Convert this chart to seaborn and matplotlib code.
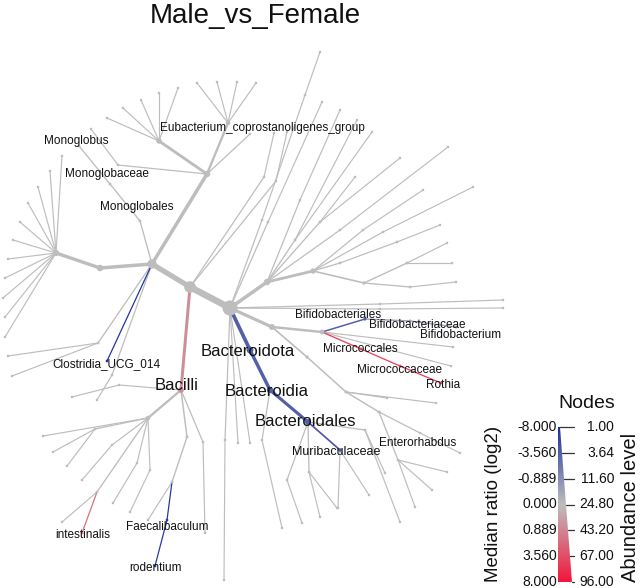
import numpy as np
import pandas as pd
import matplotlib
matplotlib.use("Agg")
import matplotlib.pyplot as plt
import seaborn as sns
from matplotlib.collections import LineCollection
from matplotlib.colors import LinearSegmentedColormap
from matplotlib.patches import Polygon

# ---------------- DATA ----------------
title = "Male_vs_Female"

# taxonomy: child -> parent
parent_of = {
    "Firmicutes": "Bacteria", "Clostridia": "Firmicutes",
    "cl_a": "Clostridia", "cl_b": "cl_a",
    "cl_c": "Clostridia", "cl_d": "cl_c", "cl_e": "cl_c", "cl_f": "cl_c", "cl_f1": "cl_f",
    "Eubacterium_coprostanoligenes_group": "cl_c",
    "Monoglobales": "Clostridia", "Monoglobaceae": "Monoglobales", "Monoglobus": "Monoglobaceae",
    "cl_g": "Firmicutes", "cl_g1": "cl_g", "cl_h": "Firmicutes", "cl_h1": "cl_h",
    "cl_i": "Clostridia", "cl_i1": "cl_i", "cl_i2": "cl_i",
    "Clostridia_UCG_014": "Clostridia", "cl_k": "Clostridia", "cl_k1": "cl_k",
    "Bacilli": "Firmicutes", "ba_a": "Bacilli", "ba_a1": "ba_a",
    "ba_b": "Bacilli", "ba_b1": "ba_b", "ba_c": "ba_b", "ba_c1": "ba_c", "ba_c2": "ba_c",
    "ba_d": "ba_b", "ba_d1": "ba_d", "ba_e": "ba_b", "ba_e1": "ba_e", "intestinalis": "ba_e",
    "ba_f": "ba_b", "ba_f1": "ba_f", "ba_g": "ba_b", "ba_g1": "ba_g",
    "ba_h": "Bacilli", "ba_i": "ba_h", "ba_i1": "ba_i", "Faecalibaculum": "ba_i",
    "rodentium": "Faecalibaculum", "ba_j": "Bacilli", "ba_j1": "ba_j",
    "rt_a": "Bacteria", "rt_a1": "rt_a", "rt_b": "Bacteria", "rt_c": "Bacteria",
    "rt_e": "Bacteria", "rt_e1": "rt_e", "rt_e2": "rt_e1", "rt_f": "Bacteria", "rt_f1": "rt_f",
    "rt_g": "Bacteria", "rt_g1": "rt_g", "rt_h": "Bacteria", "rt_h1": "rt_h",
    "Bacteroidota": "Bacteria", "Bacteroidia": "Bacteroidota", "bd_a": "Bacteroidia", "bd_a1": "bd_a",
    "Bacteroidales": "Bacteroidia", "bl_a": "Bacteroidales", "bl_a1": "bl_a",
    "bl_b": "Bacteroidales", "bl_b1": "bl_b", "bl_b2": "bl_b",
    "Muribaculaceae": "Bacteroidales", "mu_1": "Muribaculaceae", "mu_2": "Muribaculaceae",
    "bl_c": "Bacteroidales", "bl_c1": "bl_c", "bl_c2": "bl_c",
    "Actinobacteriota": "Bacteria", "Actinobacteria": "Actinobacteriota",
    "Bifidobacteriales": "Actinobacteria", "Bifidobacteriaceae": "Bifidobacteriales",
    "Bifidobacterium": "Bifidobacteriaceae",
    "Micrococcales": "Actinobacteria", "Micrococcaceae": "Micrococcales", "Rothia": "Micrococcaceae",
    "ac_a": "Actinobacteria", "ac_b": "Actinobacteria",
    "co_a": "Actinobacteriota", "co_b": "co_a", "co_b1": "co_b", "co_b2": "co_b",
    "co_c": "co_b", "Enterorhabdus": "co_c", "en_1": "Enterorhabdus",
    "co_d": "co_c", "co_d1": "co_d", "co_d2": "co_d", "co_d3": "co_d",
    "pr_a": "Bacteria", "pr_b": "pr_a", "pr_c": "pr_b", "pr_d": "pr_c", "pr_d1": "pr_d",
    "pr_e": "pr_c", "pr_e1": "pr_e", "pr_e2": "pr_e",
    "pr_f": "pr_b", "pr_g": "pr_f", "pr_g1": "pr_g",
    "pr_h": "pr_b", "pr_h1": "pr_h", "pr_i": "pr_b", "pr_i1": "pr_i",
    "pr_j": "pr_a", "pr_j1": "pr_j", "pr_k": "pr_a", "pr_k1": "pr_k", "pr_k2": "pr_k",
    "pr_l": "pr_a", "pr_l1": "pr_l", "pr_l2": "pr_l", "pr_m": "pr_a", "pr_m1": "pr_m",
}
for i in range(1, 12):
    parent_of[f"cl_b{i}"] = "cl_b"
for i in range(1, 6):
    parent_of[f"cl_d{i}"] = "cl_d"
for i in range(1, 5):
    parent_of[f"cl_e{i}"] = "cl_e"

# abundance level per taxon (unlisted taxa = 1)
abundance = {
    "Bacteria": 110, "Firmicutes": 80, "Clostridia": 60, "cl_a": 35, "cl_b": 33,
    "cl_c": 35, "cl_d": 26, "cl_e": 18, "cl_f": 2, "Eubacterium_coprostanoligenes_group": 2,
    "Monoglobales": 3, "Monoglobaceae": 3, "Monoglobus": 3, "cl_g": 2, "cl_h": 2,
    "cl_i": 3, "Clostridia_UCG_014": 2, "cl_k": 2,
    "Bacilli": 28, "ba_b": 18, "ba_c": 3, "ba_e": 3, "ba_h": 5, "ba_i": 4,
    "Faecalibaculum": 2, "rodentium": 2, "ba_j": 2, "intestinalis": 2,
    "Bacteroidota": 38, "Bacteroidia": 34, "Bacteroidales": 30, "Muribaculaceae": 9,
    "bl_b": 3, "bl_c": 3, "bd_a": 2, "bl_a": 2,
    "Actinobacteriota": 30, "Actinobacteriota_": 0, "Actinobacteria": 20,
    "Bifidobacteriales": 6, "Bifidobacteriaceae": 5, "Bifidobacterium": 4,
    "Micrococcales": 4, "Micrococcaceae": 3, "Rothia": 3,
    "co_a": 8, "co_b": 6, "co_c": 5, "co_d": 3, "Enterorhabdus": 2,
    "pr_a": 35, "pr_b": 25, "pr_c": 8, "pr_d": 3, "pr_e": 4, "pr_f": 3, "pr_g": 2,
    "pr_h": 2, "pr_i": 2, "pr_j": 2, "pr_k": 3, "pr_l": 3, "pr_m": 2,
    "rt_a": 2, "rt_e": 2, "rt_e1": 1.5, "rt_f": 2, "rt_g": 2, "rt_h": 2,
}

# median log2 ratio per taxon (unlisted taxa = 0)
log2_ratio = {
    "Clostridia_UCG_014": -7.5, "Bacilli": 0.6, "intestinalis": 1.6,
    "Faecalibaculum": -7.0, "rodentium": -7.0,
    "Bacteroidota": -3.5, "Bacteroidia": -3.5, "Bacteroidales": -3.5, "Muribaculaceae": -4.0,
    "Bifidobacteriales": -3.5, "Bifidobacteriaceae": -0.3, "Bifidobacterium": -0.2,
    "Micrococcales": 4.0, "Micrococcaceae": 4.0, "Rothia": 4.0,
}

labelled = ["Eubacterium_coprostanoligenes_group", "Monoglobus", "Monoglobaceae", "Monoglobales",
            "Clostridia_UCG_014", "Bacilli", "Bacteroidota", "Bacteroidia", "Bacteroidales",
            "Muribaculaceae", "Bifidobacteriales", "Bifidobacteriaceae", "Bifidobacterium",
            "Micrococcales", "Micrococcaceae", "Rothia", "Enterorhabdus", "intestinalis",
            "Faecalibaculum", "rodentium"]

ratio_ticks = ["-8.000", "-3.560", "-0.889", "0.000", "0.889", "3.560", "8.000"]
abund_ticks = ["1.00", "3.64", "11.60", "24.80", "43.20", "67.00", "96.00"]

# ---------------- LAYOUT (node positions, pixel space) ----------------
node_xy = {
    "Bacteria": (230, 308), "Firmicutes": (190, 287), "Clostridia": (152, 264),
    "cl_a": (100, 268), "cl_b": (56, 253),
    "cl_c": (207, 174), "cl_d": (159, 141), "cl_e": (228, 123), "cl_f": (118, 165), "cl_f1": (91, 129),
    "Eubacterium_coprostanoligenes_group": (250, 134),
    "Monoglobales": (140, 221), "Monoglobaceae": (110, 184), "Monoglobus": (79, 146),
    "cl_g": (264, 177), "cl_g1": (274, 133), "cl_h": (276, 181), "cl_h1": (287, 132),
    "cl_i": (98, 343), "cl_i1": (8, 356), "cl_i2": (12, 376),
    "Clostridia_UCG_014": (107, 361), "cl_k": (112, 375), "cl_k1": (97, 400),
    "Bacilli": (181, 390), "ba_a": (119, 385), "ba_a1": (72, 397),
    "ba_b": (148, 418), "ba_b1": (43, 436), "ba_c": (95, 429), "ba_c1": (53, 452), "ba_c2": (67, 466),
    "ba_d": (112, 445), "ba_d1": (82, 480), "ba_e": (97, 492), "ba_e1": (62, 522),
    "intestinalis": (82, 533), "ba_f": (137, 463), "ba_f1": (113, 503),
    "ba_g": (150, 470), "ba_g1": (130, 512),
    "ba_h": (187, 437), "ba_i": (172, 482), "ba_i1": (148, 520),
    "Faecalibaculum": (167, 520), "rodentium": (155, 566), "ba_j": (203, 442), "ba_j1": (205, 533),
    "rt_a": (225, 440), "rt_a1": (224, 580), "rt_b": (238, 443), "rt_c": (250, 443),
    "rt_e": (262, 220), "rt_e1": (305, 95), "rt_e2": (320, 52), "rt_f": (268, 222), "rt_f1": (322, 102),
    "rt_g": (380, 304), "rt_g1": (503, 300), "rt_h": (380, 309), "rt_h1": (503, 308),
    "Bacteroidota": (250, 350), "Bacteroidia": (270, 390), "bd_a": (262, 440), "bd_a1": (282, 528),
    "Bacteroidales": (308, 422), "bl_a": (287, 480), "bl_a1": (302, 523),
    "bl_b": (309, 472), "bl_b1": (320, 517), "bl_b2": (337, 508),
    "Muribaculaceae": (340, 450), "mu_1": (338, 508), "mu_2": (369, 495),
    "bl_c": (365, 430), "bl_c1": (385, 473), "bl_c2": (400, 522),
    "Actinobacteriota": (272, 327), "Actinobacteria": (322, 332),
    "Bifidobacteriales": (365, 319), "Bifidobacteriaceae": (410, 321), "Bifidobacterium": (456, 327),
    "Micrococcales": (361, 349), "Micrococcaceae": (400, 366), "Rothia": (441, 383),
    "ac_a": (453, 347), "ac_b": (451, 366),
    "co_a": (307, 357), "co_b": (346, 392), "co_b1": (387, 398), "co_b2": (436, 403),
    "co_c": (379, 412), "Enterorhabdus": (420, 433), "en_1": (460, 453),
    "co_d": (398, 460), "co_d1": (447, 472), "co_d2": (432, 490), "co_d3": (415, 507),
    "pr_a": (267, 282), "pr_b": (313, 271), "pr_c": (364, 283), "pr_d": (410, 287), "pr_d1": (456, 282),
    "pr_e": (407, 263), "pr_e1": (447, 243), "pr_e2": (452, 263),
    "pr_f": (340, 263), "pr_g": (397, 242), "pr_g1": (440, 225),
    "pr_h": (363, 230), "pr_h1": (423, 190), "pr_i": (383, 232), "pr_i1": (473, 187),
    "pr_j": (340, 230), "pr_j1": (448, 147), "pr_k": (320, 222), "pr_k1": (355, 177), "pr_k2": (400, 158),
    "pr_l": (295, 240), "pr_l1": (357, 120), "pr_l2": (372, 132), "pr_m": (300, 200), "pr_m1": (340, 110),
}
for i, p in enumerate([(62, 156), (50, 171), (38, 187), (28, 203), (20, 222), (13, 240),
                       (8, 259), (5, 278), (3, 298), (5, 317), (5, 337)]):
    node_xy[f"cl_b{i+1}"] = p
for i, p in enumerate([(107, 118), (123, 108), (141, 100), (159, 93), (178, 88)]):
    node_xy[f"cl_d{i+1}"] = p
for i, p in enumerate([(197, 83), (217, 82), (237, 82), (256, 83)]):
    node_xy[f"cl_e{i+1}"] = p

label_xy = {
    "Eubacterium_coprostanoligenes_group": (262, 128), "Monoglobus": (76, 141),
    "Monoglobaceae": (107, 174), "Monoglobales": (137, 207), "Clostridia_UCG_014": (106, 364),
    "Bacilli": (177, 385), "Bacteroidota": (248, 351), "Bacteroidia": (267, 392),
    "Bacteroidales": (305, 421), "Muribaculaceae": (336, 452), "Bifidobacteriales": (338, 315),
    "Bifidobacteriaceae": (417, 325), "Bifidobacterium": (461, 335), "Micrococcales": (360, 349),
    "Micrococcaceae": (400, 370), "Rothia": (443, 385), "Enterorhabdus": (418, 443),
    "intestinalis": (83, 535), "Faecalibaculum": (167, 527), "rodentium": (155, 568),
}
big_labels = {"Bacilli", "Bacteroidota", "Bacteroidia", "Bacteroidales"}

# ---------------- STYLE ----------------
sns.set_theme(style="white")
plt.rcParams["font.family"] = ["Liberation Sans", "DejaVu Sans"]

cmap = LinearSegmentedColormap.from_list("ratio", ["#1d2f9c", "#bebebe", "#f2163c"])


def tval(v):
    return np.sign(v) * np.sqrt(abs(v) / 8.0)


def width_px(a):
    return 1.1 + 6.5 * a / 96.0


nodes = list(node_xy.keys())
df = pd.DataFrame({
    "taxon": nodes,
    "x": [node_xy[n][0] for n in nodes],
    "y": [node_xy[n][1] for n in nodes],
    "abund": [abundance.get(n, 1) for n in nodes],
    "ratio": [log2_ratio.get(n, 0.0) for n in nodes],
})
df["t"] = df["ratio"].apply(tval)
df["w"] = df["abund"].apply(width_px)
df["r"] = 0.3 + 0.85 * df["w"]
df["msize"] = (2 * df["r"] * 0.72) ** 2

fig = plt.figure(figsize=(6.4, 5.88), dpi=100)
ax = fig.add_axes([0, 0, 1, 1])

# edges
edges = []
for child, par in parent_of.items():
    c = df.loc[df.taxon == child].iloc[0]
    p = df.loc[df.taxon == par].iloc[0]
    edges.append(((p.x, p.y), (c.x, c.y), c.w * 0.72, cmap((c.t + 1) / 2), abs(c.t)))
edges.sort(key=lambda e: e[4])
lc = LineCollection([[e[0], e[1]] for e in edges], linewidths=[e[2] for e in edges],
                    colors=[e[3] for e in edges], capstyle="round", joinstyle="round", zorder=2)
ax.add_collection(lc)

# nodes
sns.scatterplot(data=df, x="x", y="y", size="msize",
                sizes=(df.msize.min(), df.msize.max()),
                size_norm=(df.msize.min(), df.msize.max()),
                hue="t", palette=cmap, hue_norm=(-1, 1), linewidth=0,
                legend=False, ax=ax, zorder=3)

# labels
for name in labelled:
    lx, ly = label_xy[name]
    fs = 12 if name in big_labels else (9 if name == "Muribaculaceae" else 8.5)
    ax.text(lx, ly, name, ha="center", va="center", fontsize=fs, color="#111111", zorder=5)

ax.text(255, 16, title, ha="center", va="center", fontsize=20, color="#111111")

# legend wedge
top, bot, xl = 427, 582, 558
xr_top, xr_bot = 560, 572
grad = np.linspace(0, 1, 256).reshape(-1, 1)
im = ax.imshow(grad, cmap=cmap, extent=(xl, xr_bot, bot, top), aspect="auto",
               origin="upper", zorder=4, interpolation="bilinear")
wedge = Polygon([(xl, top), (xr_top, top), (xr_bot, bot), (xl, bot)], closed=True,
                transform=ax.transData, facecolor="none", edgecolor="none")
ax.add_patch(wedge)
im.set_clip_path(wedge)

ys = np.linspace(top, bot, len(ratio_ticks))
for y, lt, rt in zip(ys, ratio_ticks, abund_ticks):
    ax.text(xl - 1, y, lt, ha="right", va="center", fontsize=10, color="#111111")
    xr = xr_top + (xr_bot - xr_top) * (y - top) / (bot - top)
    if xr < 573:
        ax.plot([xr, 574], [y, y], color="#333333", lw=0.9)
    ax.text(614, y, rt, ha="right", va="center", fontsize=10, color="#111111")

ax.text(587, 403, "Nodes", ha="center", va="center", fontsize=14, color="#111111")
ax.text(494, 504, "Median ratio (log2)", ha="center", va="center", rotation=90,
        fontsize=13.5, color="#111111")
ax.text(631, 507, "Abundance level", ha="center", va="center", rotation=90,
        fontsize=14.5, color="#111111")

ax.set_xlim(0, 640)
ax.set_ylim(588, 0)
ax.axis("off")
fig.savefig("out.png", dpi=100)
